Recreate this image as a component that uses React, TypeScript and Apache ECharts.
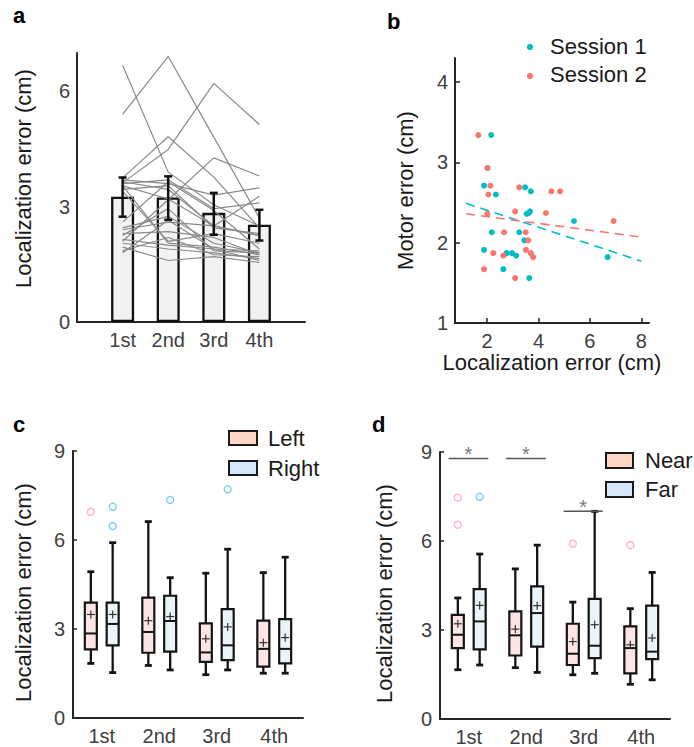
import React, { useEffect, useRef } from 'react';
import * as echarts from 'echarts';

const FONT = '"Liberation Sans", Arial, Helvetica, sans-serif';

// ---------- shared ----------
const sessionLabels = ['1st', '2nd', '3rd', '4th'];
const sessionPos = [1, 2, 3, 4];

// ---------- panel a ----------
const barMeans = [3.26, 3.24, 2.84, 2.53];
const barErrLow = [2.74, 2.66, 2.27, 2.12];
const barErrHigh = [3.76, 3.79, 3.36, 2.92];
const subjectErrors: number[][] = [
  [6.68, 3.9, 3.05, 2.5],
  [5.4, 6.91, 4.81, 2.7],
  [3.62, 4.49, 6.21, 5.14],
  [3.75, 4.82, 3.77, 2.45],
  [2.1, 3.18, 4.27, 3.8],
  [3.7, 3.6, 3.3, 3.49],
  [3.65, 3.45, 2.5, 3.27],
  [3.6, 3.7, 2.95, 3.1],
  [3.55, 3.2, 2.5, 2.25],
  [3.55, 2.05, 1.95, 1.75],
  [3.45, 3.55, 2.45, 2.3],
  [2.6, 3.65, 2.9, 1.9],
  [2.4, 2.6, 2.5, 2.25],
  [2.25, 2.95, 1.85, 1.8],
  [2.15, 2.0, 1.9, 1.85],
  [2.05, 1.9, 1.8, 1.65],
  [1.95, 1.6, 1.7, 1.55],
  [1.85, 2.2, 1.75, 1.7],
  [2.45, 2.75, 2.05, 1.8],
  [2.3, 2.35, 2.2, 1.75],
  [1.8, 2.65, 1.9, 1.6],
  [3.4, 2.1, 2.3, 2.05],
];

// ---------- panel b ----------
const session1Points: number[][] = [
  [2.16, 3.34], [2.02, 2.93], [1.88, 2.71], [2.34, 2.6], [2.18, 2.13], [1.88, 1.91],
  [2.63, 1.67], [2.76, 1.87], [2.97, 1.87], [3.13, 1.84], [3.25, 2.13], [3.48, 2.69],
  [3.7, 2.64], [3.54, 2.36], [3.67, 2.39], [3.62, 2.37], [3.45, 2.03], [3.64, 1.56],
  [5.38, 2.27], [6.69, 1.82],
];
const session2Points: number[][] = [
  [1.66, 3.34], [2.01, 2.93], [2.13, 2.71], [2.05, 2.6], [2.01, 2.36], [2.24, 1.87],
  [1.88, 1.67], [2.66, 2.13], [2.63, 1.84], [3.09, 1.56], [3.09, 2.39], [3.25, 2.69],
  [3.5, 2.13], [3.6, 2.03], [3.51, 1.91], [3.7, 1.87], [3.79, 1.82], [4.29, 2.37],
  [4.5, 2.64], [4.84, 2.64], [6.92, 2.27],
];
const session1Fit: number[][] = [[1.18, 2.49], [8.0, 1.77]];
const session2Fit: number[][] = [[1.18, 2.36], [8.0, 2.07]];

// ---------- panel c ---------- [min, q1, median, q3, max, mean]
const leftBox: number[][] = [
  [1.84, 2.31, 2.85, 3.89, 4.93, 3.49],
  [1.77, 2.2, 2.9, 4.06, 6.62, 3.28],
  [1.46, 1.89, 2.21, 3.19, 4.88, 2.67],
  [1.51, 1.73, 2.33, 3.28, 4.9, 2.54],
];
const rightBox: number[][] = [
  [1.53, 2.45, 3.17, 3.89, 5.91, 3.49],
  [1.62, 2.24, 3.27, 4.12, 4.73, 3.42],
  [1.62, 1.95, 2.45, 3.67, 5.69, 3.07],
  [1.51, 1.84, 2.33, 3.33, 5.42, 2.71],
];
const leftOutliers: number[][] = [[1, 6.95]];
const rightOutliers: number[][] = [[1, 7.12], [1, 6.47], [2, 7.35], [3, 7.71]];

// ---------- panel d ----------
const nearBox: number[][] = [
  [1.66, 2.39, 2.84, 3.51, 4.08, 3.21],
  [1.73, 2.14, 2.82, 3.63, 5.06, 3.03],
  [1.49, 1.82, 2.2, 3.21, 3.94, 2.61],
  [1.17, 1.54, 2.39, 3.12, 3.72, 2.5],
];
const farBox: number[][] = [
  [1.82, 2.35, 3.29, 4.38, 5.56, 3.83],
  [1.57, 2.44, 3.57, 4.47, 5.86, 3.82],
  [1.54, 2.05, 2.47, 4.05, 7.0, 3.18],
  [1.32, 2.02, 2.27, 3.82, 4.94, 2.73],
];
const nearOutliers: number[][] = [[1, 7.46], [1, 6.55], [3, 5.91], [4, 5.86]];
const farOutliers: number[][] = [[1, 7.49]];
const sigBars: number[][] = [[0.65, 1.34, 8.78], [1.65, 2.34, 8.78], [2.65, 3.33, 7.0]];

// ---------- styles ----------
const BOX_OFFSET = 0.19;
const TEAL = '#00BFC4';
const SALMON = '#F8766D';
const AXIS_COLOR = '#262626';
const TICK_COLOR = '#404040';

const labelStyle = { fontFamily: FONT, fontSize: 20, color: TICK_COLOR };
const nameStyle = { fontFamily: FONT, fontSize: 22, color: '#1a1a1a' };

function boxRender(fill: string) {
  return (params: any, api: any) => {
    const x = api.value(0);
    const pMin = api.coord([x, api.value(1)]);
    const pQ1 = api.coord([x, api.value(2)]);
    const pMed = api.coord([x, api.value(3)]);
    const pQ3 = api.coord([x, api.value(4)]);
    const pMax = api.coord([x, api.value(5)]);
    const pMean = api.coord([x, api.value(6)]);
    const cx = pQ1[0];
    const hw = 6;
    const cap = 3.5;
    const dark = { stroke: '#141414', lineWidth: 2.3 };
    return {
      type: 'group',
      children: [
        { type: 'line', shape: { x1: cx, y1: pMax[1], x2: cx, y2: pQ3[1] }, style: dark },
        { type: 'line', shape: { x1: cx, y1: pQ1[1], x2: cx, y2: pMin[1] }, style: dark },
        { type: 'line', shape: { x1: cx - cap, y1: pMax[1], x2: cx + cap, y2: pMax[1] }, style: { stroke: '#141414', lineWidth: 2.8 } },
        { type: 'line', shape: { x1: cx - cap, y1: pMin[1], x2: cx + cap, y2: pMin[1] }, style: { stroke: '#141414', lineWidth: 2.8 } },
        { type: 'rect', shape: { x: cx - hw, y: pQ3[1], width: hw * 2, height: pQ1[1] - pQ3[1] }, style: { fill, stroke: '#141414', lineWidth: 2.2 } },
        { type: 'line', shape: { x1: cx - hw, y1: pMed[1], x2: cx + hw, y2: pMed[1] }, style: { stroke: '#141414', lineWidth: 2 } },
        { type: 'line', shape: { x1: cx - 4, y1: pMean[1], x2: cx + 4, y2: pMean[1] }, style: { stroke: '#333', lineWidth: 1.2 } },
        { type: 'line', shape: { x1: cx, y1: pMean[1] - 4, x2: cx, y2: pMean[1] + 4 }, style: { stroke: '#333', lineWidth: 1.2 } },
      ],
    };
  };
}

function sigRender(params: any, api: any) {
  const y = api.value(2);
  const p0 = api.coord([api.value(0), y]);
  const p1 = api.coord([api.value(1), y]);
  return {
    type: 'group',
    children: [
      { type: 'line', shape: { x1: p0[0], y1: p0[1], x2: p1[0], y2: p1[1] }, style: { stroke: '#555', lineWidth: 1.5 } },
      {
        type: 'text',
        x: (p0[0] + p1[0]) / 2,
        y: p0[1] - 4.5,
        style: { text: '*', fill: '#7a7a7a', fontSize: 20, fontFamily: FONT, align: 'center', verticalAlign: 'middle' },
      },
    ],
  };
}

function errRender(params: any, api: any) {
  const x = api.value(0);
  const lo = api.coord([x, api.value(1)]);
  const hi = api.coord([x, api.value(2)]);
  const cap = 4;
  const style = { stroke: '#111', lineWidth: 2.5 };
  return {
    type: 'group',
    children: [
      { type: 'line', shape: { x1: lo[0], y1: lo[1], x2: hi[0], y2: hi[1] }, style },
      { type: 'line', shape: { x1: lo[0] - cap, y1: lo[1], x2: lo[0] + cap, y2: lo[1] }, style },
      { type: 'line', shape: { x1: hi[0] - cap, y1: hi[1], x2: hi[0] + cap, y2: hi[1] }, style },
    ],
  };
}

function sessionXAxis(gridIndex: number, min: number, max: number) {
  return {
    type: 'value', gridIndex, min, max,
    axisLine: { show: true, lineStyle: { color: AXIS_COLOR, width: 2 } },
    axisTick: { show: false },
    splitLine: { show: false },
    axisLabel: {
      ...labelStyle, margin: 8,
      customValues: sessionPos,
      formatter: (v: number) => sessionLabels[Math.round(v) - 1] ?? '',
    },
  };
}

function boxYAxis(gridIndex: number, nameGap: number) {
  return {
    type: 'value', gridIndex, min: 0, max: 9,
    axisLine: { show: true, lineStyle: { color: AXIS_COLOR, width: 2 } },
    axisTick: { show: true, inside: true, length: 4, lineStyle: { color: AXIS_COLOR, width: 1.5 }, customValues: [0, 3, 6, 9] },
    splitLine: { show: false },
    axisLabel: { ...labelStyle, margin: 8, customValues: [0, 3, 6, 9] },
    name: 'Localization error (cm)', nameLocation: 'middle', nameGap,
    nameTextStyle: { ...nameStyle, padding: [0, 16, 0, 0] },
  };
}

function outlierSeries(data: number[][], xi: number, offset: number, color: string) {
  return {
    type: 'scatter', xAxisIndex: xi, yAxisIndex: xi,
    data: data.map((d) => [d[0] + offset, d[1]]),
    symbol: 'circle', symbolSize: 7,
    itemStyle: { color: '#ffffff', borderColor: color, borderWidth: 1.4 },
    silent: true, z: 5,
  };
}

function boxSeries(stats: number[][], xi: number, offset: number, fill: string) {
  return {
    type: 'custom', xAxisIndex: xi, yAxisIndex: xi, clip: false,
    data: stats.map((s, i) => [sessionPos[i] + offset, ...s]),
    renderItem: boxRender(fill), z: 4,
  };
}

export default function App() {
  const ref = useRef<HTMLDivElement>(null);
  useEffect(() => {
    if (!ref.current) return;
    const chart = echarts.init(ref.current, undefined, { renderer: 'svg' });

    const subjectSeries = subjectErrors.map((s) => ({
      type: 'line', xAxisIndex: 0, yAxisIndex: 0,
      data: s.map((v, i) => [sessionPos[i], v]),
      symbol: 'none', silent: true, z: 3,
      lineStyle: { color: '#8a8a8a', width: 1.2 },
    }));

    const option: any = {
      animation: false,
      backgroundColor: '#ffffff',
      textStyle: { fontFamily: FONT },
      grid: [
        { left: 77, top: 53, width: 228, height: 269, outerBoundsMode: 'none' },
        { left: 455, top: 58, width: 194, height: 265, outerBoundsMode: 'none' },
        { left: 73, top: 451, width: 230, height: 267, outerBoundsMode: 'none' },
        { left: 440, top: 452, width: 230, height: 267, outerBoundsMode: 'none' },
      ],
      xAxis: [
        sessionXAxis(0, 0, 5),
        {
          type: 'value', gridIndex: 1, min: 0.75, max: 8.3,
          axisLine: { show: true, lineStyle: { color: AXIS_COLOR, width: 2 } },
          axisTick: { show: true, inside: true, length: 5, lineStyle: { color: AXIS_COLOR, width: 1.5 }, customValues: [2, 4, 6, 8] },
          splitLine: { show: false },
          axisLabel: { ...labelStyle, margin: 8, customValues: [2, 4, 6, 8] },
          name: 'Localization error (cm)', nameLocation: 'middle', nameGap: 26, nameTextStyle: nameStyle,
        },
        sessionXAxis(2, 0.5, 4.5),
        sessionXAxis(3, 0.5, 4.5),
      ],
      yAxis: [
        {
          type: 'value', gridIndex: 0, min: 0, max: 7,
          axisLine: { show: true, lineStyle: { color: AXIS_COLOR, width: 2 } },
          axisTick: { show: false },
          splitLine: { show: false },
          axisLabel: { ...labelStyle, margin: 7, customValues: [0, 3, 6] },
          name: 'Localization error (cm)', nameLocation: 'middle', nameGap: 43,
          nameTextStyle: { ...nameStyle, padding: [0, 0, 0, 18] },
        },
        {
          type: 'value', gridIndex: 1, min: 1, max: 4.3,
          axisLine: { show: true, lineStyle: { color: AXIS_COLOR, width: 2 } },
          axisTick: { show: true, inside: true, length: 5, lineStyle: { color: AXIS_COLOR, width: 1.5 }, customValues: [1, 2, 3, 4] },
          splitLine: { show: false },
          axisLabel: { ...labelStyle, margin: 7, customValues: [1, 2, 3, 4] },
          name: 'Motor error (cm)', nameLocation: 'middle', nameGap: 39, nameTextStyle: nameStyle,
        },
        boxYAxis(2, 39),
        boxYAxis(3, 45),
      ],
      series: [
        // panel a
        {
          type: 'bar', xAxisIndex: 0, yAxisIndex: 0,
          data: barMeans.map((v, i) => [sessionPos[i], v]),
          barWidth: 23, z: 2, silent: true,
          itemStyle: { color: '#f2f2f2', borderColor: '#111', borderWidth: 2.3 },
        },
        ...subjectSeries,
        {
          type: 'custom', xAxisIndex: 0, yAxisIndex: 0, clip: false, z: 6,
          data: barMeans.map((_, i) => [sessionPos[i], barErrLow[i], barErrHigh[i]]),
          renderItem: errRender,
        },
        // panel b
        {
          type: 'line', xAxisIndex: 1, yAxisIndex: 1, data: session1Fit, symbol: 'none', silent: true, z: 2,
          lineStyle: { color: TEAL, width: 1.6, type: [9, 6] },
        },
        {
          type: 'line', xAxisIndex: 1, yAxisIndex: 1, data: session2Fit, symbol: 'none', silent: true, z: 2,
          lineStyle: { color: SALMON, width: 1.6, type: [9, 6] },
        },
        {
          type: 'scatter', xAxisIndex: 1, yAxisIndex: 1, data: session1Points, symbolSize: 6, z: 3,
          itemStyle: { color: TEAL, opacity: 1 },
        },
        {
          type: 'scatter', xAxisIndex: 1, yAxisIndex: 1, data: session2Points, symbolSize: 6, z: 4,
          itemStyle: { color: SALMON, opacity: 1 },
        },
        // panel c
        boxSeries(leftBox, 2, -BOX_OFFSET, '#fde5e6'),
        boxSeries(rightBox, 2, BOX_OFFSET, '#e9f5f9'),
        outlierSeries(leftOutliers, 2, -BOX_OFFSET, '#ff9dcf'),
        outlierSeries(rightOutliers, 2, BOX_OFFSET, '#55c6f2'),
        // panel d
        boxSeries(nearBox, 3, -BOX_OFFSET, '#fde5e6'),
        boxSeries(farBox, 3, BOX_OFFSET, '#e9f5f9'),
        outlierSeries(nearOutliers, 3, -BOX_OFFSET, '#ff9dcf'),
        outlierSeries(farOutliers, 3, BOX_OFFSET, '#55c6f2'),
        {
          type: 'custom', xAxisIndex: 3, yAxisIndex: 3, clip: false, z: 6,
          data: sigBars, renderItem: sigRender,
        },
      ],
      graphic: [
        { type: 'text', x: 13, y: 15.5, style: { text: 'a', fontSize: 22, fontWeight: 'bold', fontFamily: FONT, fill: '#000', verticalAlign: 'middle' } },
        { type: 'text', x: 387, y: 21.5, style: { text: 'b', fontSize: 22, fontWeight: 'bold', fontFamily: FONT, fill: '#000', verticalAlign: 'middle' } },
        { type: 'text', x: 13, y: 424.5, style: { text: 'c', fontSize: 22, fontWeight: 'bold', fontFamily: FONT, fill: '#000', verticalAlign: 'middle' } },
        { type: 'text', x: 372, y: 424.5, style: { text: 'd', fontSize: 22, fontWeight: 'bold', fontFamily: FONT, fill: '#000', verticalAlign: 'middle' } },
        // legend b
        { type: 'circle', shape: { cx: 530, cy: 47, r: 3.2 }, style: { fill: TEAL } },
        { type: 'text', x: 550, y: 46, style: { text: 'Session 1', fontSize: 22, fontFamily: FONT, fill: '#1a1a1a', verticalAlign: 'middle' } },
        { type: 'circle', shape: { cx: 530, cy: 76, r: 3.2 }, style: { fill: SALMON } },
        { type: 'text', x: 550, y: 74, style: { text: 'Session 2', fontSize: 22, fontFamily: FONT, fill: '#1a1a1a', verticalAlign: 'middle' } },
        // legend c
        { type: 'rect', shape: { x: 229, y: 431, width: 28, height: 14 }, style: { fill: '#fdd6c6', stroke: '#1a1a1a', lineWidth: 2 } },
        { type: 'text', x: 268, y: 438, style: { text: 'Left', fontSize: 22, fontFamily: FONT, fill: '#1a1a1a', verticalAlign: 'middle' } },
        { type: 'rect', shape: { x: 229, y: 461, width: 28, height: 14 }, style: { fill: '#d3e7f9', stroke: '#1a1a1a', lineWidth: 2 } },
        { type: 'text', x: 268, y: 468, style: { text: 'Right', fontSize: 22, fontFamily: FONT, fill: '#1a1a1a', verticalAlign: 'middle' } },
        // legend d
        { type: 'rect', shape: { x: 606, y: 453, width: 27, height: 15 }, style: { fill: '#fdd6c6', stroke: '#1a1a1a', lineWidth: 2 } },
        { type: 'text', x: 645, y: 460, style: { text: 'Near', fontSize: 22, fontFamily: FONT, fill: '#1a1a1a', verticalAlign: 'middle' } },
        { type: 'rect', shape: { x: 606, y: 482, width: 27, height: 15 }, style: { fill: '#d3e7f9', stroke: '#1a1a1a', lineWidth: 2 } },
        { type: 'text', x: 645, y: 489, style: { text: 'Far', fontSize: 22, fontFamily: FONT, fill: '#1a1a1a', verticalAlign: 'middle' } },
      ],
    };
    chart.setOption(option);
    return () => chart.dispose();
  }, []);
  return <div ref={ref} style={{ position: 'absolute', left: 0, top: 0, width: 694, height: 747 }} />;
}
